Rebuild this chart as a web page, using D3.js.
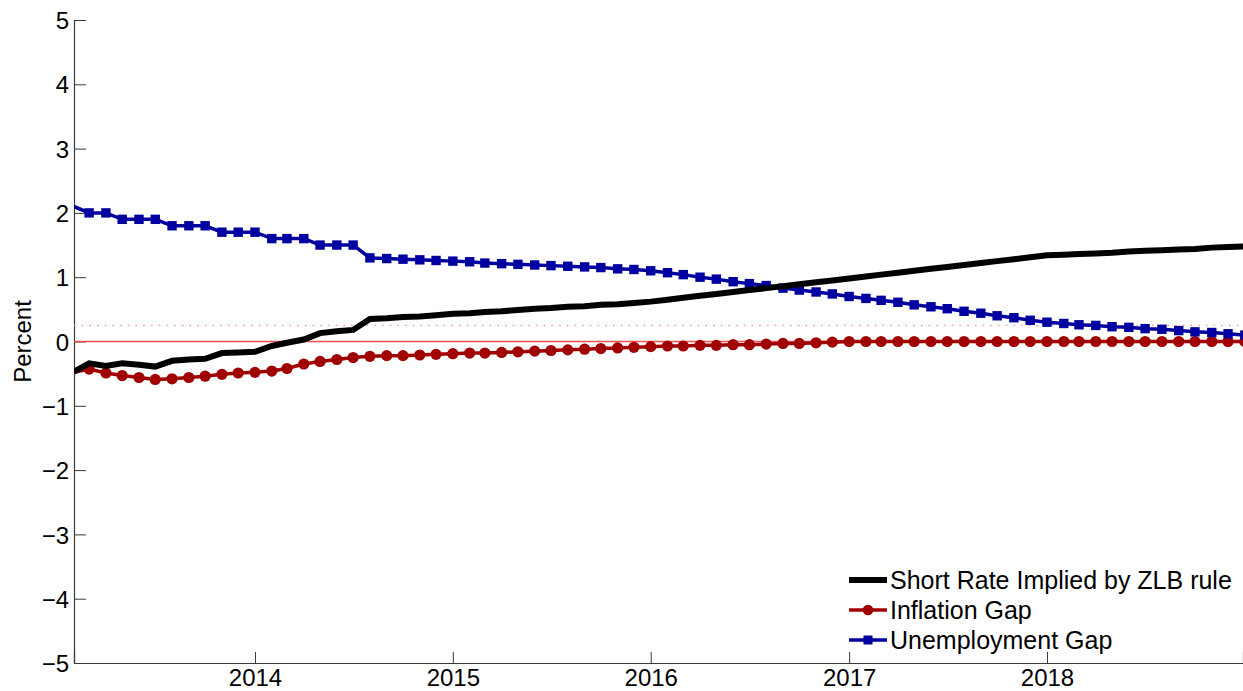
<!DOCTYPE html>
<html>
<head>
<meta charset="utf-8">
<script src="https://cdn.jsdelivr.net/npm/d3@7"></script>
<style>
  body { margin: 0; background: #fff; }
  svg { display: block; font-family: "Liberation Sans", Arial, sans-serif; }
</style>
</head>
<body>
<div class="plot"></div>
<script>
// monthly observations, Feb 2013 .. Jan 2019
const months = d3.timeMonth.range(new Date(2013, 1, 1), new Date(2019, 1, 1));

const shortRate = [-0.47, -0.34, -0.38, -0.34, -0.36, -0.39, -0.30, -0.28, -0.27, -0.18, -0.17, -0.16,
  -0.07, -0.02, 0.03, 0.13, 0.16, 0.18, 0.35, 0.36, 0.38, 0.39, 0.41, 0.43,
  0.44, 0.46, 0.47, 0.49, 0.51, 0.52, 0.54, 0.55, 0.57, 0.58, 0.60, 0.62,
  0.65, 0.68, 0.71, 0.74, 0.77, 0.80, 0.83, 0.86, 0.89, 0.92, 0.95, 0.98,
  1.01, 1.04, 1.07, 1.10, 1.13, 1.16, 1.19, 1.22, 1.25, 1.28, 1.31, 1.34,
  1.35, 1.36, 1.37, 1.38, 1.40, 1.41, 1.42, 1.43, 1.44, 1.46, 1.47, 1.48];

const inflationGap = [-0.48, -0.43, -0.49, -0.53, -0.56, -0.59, -0.58, -0.56, -0.54, -0.51, -0.49, -0.48,
  -0.46, -0.42, -0.35, -0.31, -0.28, -0.25, -0.23, -0.22, -0.22, -0.21, -0.20, -0.19,
  -0.18, -0.18, -0.17, -0.16, -0.15, -0.14, -0.13, -0.12, -0.11, -0.10, -0.09, -0.08,
  -0.07, -0.07, -0.06, -0.06, -0.05, -0.05, -0.04, -0.03, -0.03, -0.02, -0.01, 0,
  0, 0, 0, 0, 0, 0, 0, 0, 0, 0, 0, 0,
  0, 0, 0, 0, 0, 0, 0, 0, 0, 0, 0, 0];

const unemploymentGap = [2.1, 2.0, 2.0, 1.9, 1.9, 1.9, 1.8, 1.8, 1.8, 1.7, 1.7, 1.7,
  1.6, 1.6, 1.6, 1.5, 1.5, 1.5, 1.30, 1.29, 1.28, 1.27, 1.26, 1.25,
  1.24, 1.22, 1.21, 1.20, 1.19, 1.18, 1.17, 1.16, 1.15, 1.13, 1.12, 1.10,
  1.07, 1.04, 1.00, 0.97, 0.93, 0.90, 0.87, 0.83, 0.80, 0.77, 0.74, 0.70,
  0.67, 0.64, 0.61, 0.57, 0.54, 0.51, 0.47, 0.44, 0.40, 0.37, 0.33, 0.30,
  0.28, 0.26, 0.25, 0.23, 0.22, 0.20, 0.19, 0.17, 0.15, 0.14, 0.12, 0.10];

const yTicks = [-5, -4, -3, -2, -1, 0, 1, 2, 3, 4, 5];
const xTickYears = [2014, 2015, 2016, 2017, 2018];
const legendLabels = ["Short Rate Implied by ZLB rule", "Inflation Gap", "Unemployment Gap"];
const refLevel = 0.25; // dotted reference

const W = 1243, H = 691;
const margin = {left: 74, right: 1243, top: 20, bottom: 663};

const svg = d3.select(".plot").append("svg")
    .attr("width", W)
    .attr("height", H);

const x = d3.scaleTime()
    .domain([new Date(2013, 1, 1, 3), new Date(2018, 11, 28, 14)])
    .range([margin.left, margin.right]);
const y = d3.scaleLinear()
    .domain([-5, 5])
    .range([margin.bottom, margin.top]);

svg.append("clipPath").attr("id", "plotclip")
  .append("rect")
    .attr("x", margin.left).attr("y", margin.top)
    .attr("width", margin.right - margin.left).attr("height", margin.bottom - margin.top);

// axes
const yAxis = d3.axisLeft(y).tickValues(yTicks).tickSize(-12).tickPadding(20)
    .tickFormat(d => d < 0 ? "\u2212" + Math.abs(d) : d);
const gy = svg.append("g").attr("transform", `translate(${margin.left},0)`).call(yAxis);
const xAxis = d3.axisBottom(x).tickValues(xTickYears.map(yr => new Date(yr, 0, 1)))
    .tickSize(-11).tickFormat(d3.timeFormat("%Y"));
const gx = svg.append("g").attr("transform", `translate(0,${margin.bottom})`).call(xAxis);

[gx, gy].forEach(g => {
  g.select(".domain").attr("stroke", "#3a3a3a").attr("stroke-width", 1.2);
  g.selectAll(".tick line").attr("stroke", "#3a3a3a").attr("stroke-width", 1);
  g.selectAll(".tick text").attr("fill", "#000").style("font-size", "24px")
    .style("font-family", "'Liberation Sans', Arial, sans-serif");
});
gy.selectAll(".tick text").attr("dx", 15).attr("dy", "0.36em");
gx.selectAll(".tick text").attr("y", 23).attr("dy", 0);

svg.append("text")
    .attr("transform", `translate(31,${y(0)}) rotate(-90)`)
    .attr("text-anchor", "middle")
    .style("font-size", "24px")
    .text("Percent");

const plot = svg.append("g").attr("clip-path", "url(#plotclip)");

// reference lines
plot.append("line")
    .attr("x1", margin.left).attr("x2", margin.right)
    .attr("y1", y(refLevel)).attr("y2", y(refLevel))
    .attr("stroke", "#ff8a8a").attr("stroke-width", 1.3)
    .attr("stroke-dasharray", "1.5,6.2");
plot.append("line")
    .attr("x1", margin.left).attr("x2", margin.right)
    .attr("y1", y(0)).attr("y2", y(0))
    .attr("stroke", "#f25050").attr("stroke-width", 1.3);

const line = d3.line().x((d, i) => x(months[i])).y(d => y(d));

const red = "#a00000", blue = "#0000a0";

plot.append("path").datum(inflationGap)
    .attr("d", line).attr("fill", "none")
    .attr("stroke", red).attr("stroke-width", 3.5);
plot.selectAll("circle.infl")
  .data(inflationGap.map((v, i) => [months[i], v]).filter(d => d[0] >= x.domain()[0]))
  .enter().append("circle")
    .attr("class", "infl")
    .attr("cx", d => x(d[0])).attr("cy", d => y(d[1]))
    .attr("r", 5.6).attr("fill", red);

plot.append("path").datum(unemploymentGap)
    .attr("d", line).attr("fill", "none")
    .attr("stroke", blue).attr("stroke-width", 3.5);
plot.selectAll("rect.unemp")
  .data(unemploymentGap.map((v, i) => [months[i], v]).filter(d => d[0] >= x.domain()[0]))
  .enter().append("rect")
    .attr("class", "unemp")
    .attr("x", d => x(d[0]) - 4.7).attr("y", d => y(d[1]) - 4.7)
    .attr("width", 9.4).attr("height", 9.4).attr("fill", blue);

plot.append("path").datum(shortRate)
    .attr("d", line).attr("fill", "none")
    .attr("stroke", "#000").attr("stroke-width", 6);

// legend
const legend = svg.append("g").attr("transform", "translate(849,580)");
legendLabels.forEach((lab, i) => {
  const row = legend.append("g").attr("transform", `translate(0,${i * 30})`);
  const col = i === 0 ? "#000" : (i === 1 ? red : blue);
  row.append("line").attr("x1", 0).attr("x2", 38).attr("y1", 0).attr("y2", 0)
      .attr("stroke", col).attr("stroke-width", i === 0 ? 6 : 3.5);
  if (i === 1) row.append("circle").attr("cx", 19).attr("cy", 0).attr("r", 5.3).attr("fill", red);
  if (i === 2) row.append("rect").attr("x", 14.5).attr("y", -4.5).attr("width", 9).attr("height", 9).attr("fill", blue);
  row.append("text").attr("x", 41).attr("y", 8.5)
      .style("font-size", "25px").text(lab);
});
</script>
</body>
</html>
